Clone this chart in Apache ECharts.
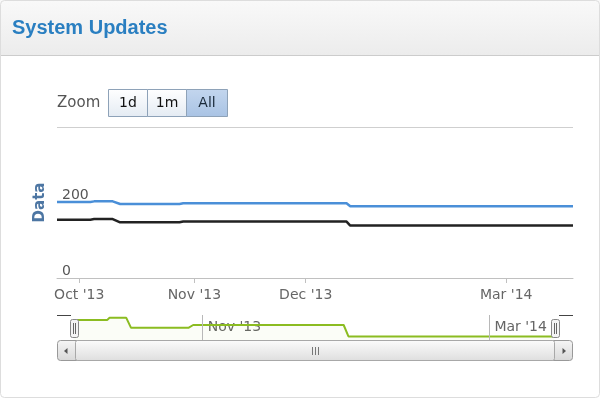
<!DOCTYPE html>
<html>
<head>
<meta charset="utf-8">
<script src="https://cdn.jsdelivr.net/npm/echarts@6/dist/echarts.min.js"></script>
<style>html,body{margin:0;padding:0;background:#fff}#chart{width:600px;height:400px}</style>
</head>
<body>
<div id="chart"></div>
<script>
// ---- data ----
const categoryRanges = [['2013-09-25', '2014-01-23'], ['2014-03-01', '2014-03-19']];
const mainDates = ['2013-09-25', '2013-10-04', '2013-10-05', '2013-10-10', '2013-10-12', '2013-10-28', '2013-10-29', '2013-12-12', '2013-12-13', '2014-03-19'];
const navDates = ['2013-09-08', '2013-09-22', '2013-09-23', '2013-09-30', '2013-10-02', '2013-10-26', '2013-10-28', '2013-12-30', '2014-01-01', '2014-03-28'];
const blueValues = [201.5, 201.5, 203, 203, 196, 196, 198, 198, 190, 190];
const blackValues = [154.5, 154.5, 156, 156, 147.5, 147.5, 149.5, 149.5, 139, 139];
const tickDates = ['2013-10-01', '2013-11-01', '2013-12-01', '2014-03-01'];
const tickLabels = ["Oct '13", "Nov '13", "Dec '13", "Mar '14"];
const navTickDates = ['2013-11-01', '2014-03-01'];
const navTickLabels = ["Nov '13", "Mar '14"];
const navRange = ['2013-09-01', '2014-04-05'];
const zoomButtons = ['1d', '1m', 'All'];
const selectedButton = 'All';

// ---- helpers ----
function toTime(s) { const p = s.split('-').map(Number); return Date.UTC(p[0], p[1] - 1, p[2]); }
function pad(n) { return n < 10 ? '0' + n : '' + n; }
function expand(ranges) {
  const out = [];
  ranges.forEach(r => {
    let t = toTime(r[0]);
    const e = toTime(r[1]);
    while (t <= e) {
      const d = new Date(t);
      out.push(d.getUTCFullYear() + '-' + pad(d.getUTCMonth() + 1) + '-' + pad(d.getUTCDate()));
      t += 86400000;
    }
  });
  return out;
}
const categories = expand(categoryRanges);
const isTick = (i, v) => tickDates.indexOf(v) >= 0;
const navTickTimes = navTickDates.map(toTime);

const FONT = 'DejaVu Sans';
const chart = echarts.init(document.getElementById('chart'), null, { renderer: 'canvas' });

function grad(c1, c2) {
  return new echarts.graphic.LinearGradient(0, 0, 0, 1, [{ offset: 0, color: c1 }, { offset: 1, color: c2 }]);
}

// zoom buttons
const btnX = [108, 147, 186, 227];
const buttonEls = [];
zoomButtons.forEach((t, i) => {
  const sel = t === selectedButton;
  buttonEls.push({
    type: 'rect', z: 5,
    shape: { x: btnX[i] + 0.5, y: 89.5, width: btnX[i + 1] - btnX[i], height: 27 },
    style: { fill: sel ? grad('#c3d6ee', '#a9c3e4') : grad('#ffffff', '#e4ebf3'), stroke: '#8ea2b8', lineWidth: 1 }
  });
  buttonEls.push({
    type: 'text', z: 6,
    style: { text: t, x: (btnX[i] + btnX[i + 1]) / 2 + 0.5, y: 103, align: 'center', verticalAlign: 'middle',
      font: '14px "' + FONT + '"', fill: sel ? '#1a2a3a' : '#111' }
  });
});

const option = {
  backgroundColor: '#ffffff',
  animation: false,
  title: {
    text: 'System Updates', left: 12, top: 18, z: 10, padding: 0,
    textStyle: { fontFamily: 'Liberation Sans', fontWeight: 'bold', fontSize: 20, color: '#2a7fc1' }
  },
  grid: [
    { left: 57, right: 27, top: 127, height: 151 },
    { left: 57, right: 27, top: 315, height: 25 }
  ],
  xAxis: [
    {
      type: 'category', data: categories, boundaryGap: false, gridIndex: 0,
      axisLine: { lineStyle: { color: '#c0c0c0' } },
      axisTick: { interval: isTick, length: 5, lineStyle: { color: '#c0c0c0' } },
      axisLabel: {
        interval: isTick, margin: 10, color: '#666', fontFamily: FONT, fontSize: 14,
        formatter: v => tickLabels[tickDates.indexOf(v)]
      },
      splitLine: { show: false }
    },
    {
      type: 'value', gridIndex: 1, min: toTime(navRange[0]), max: toTime(navRange[1]),
      axisLine: { show: false }, axisTick: { show: false }, splitLine: { show: false },
      axisLabel: {
        inside: true, margin: 6, align: 'left', padding: [0, 0, 0, 5],
        color: '#666', fontFamily: FONT, fontSize: 14,
        customValues: navTickTimes,
        formatter: v => { const i = navTickTimes.indexOf(v); return i >= 0 ? navTickLabels[i] : ''; }
      }
    }
  ],
  yAxis: [
    {
      type: 'value', gridIndex: 0, min: 0, max: 400, interval: 200,
      name: 'Data', nameLocation: 'middle', nameGap: 9, nameRotate: 90,
      nameTextStyle: { color: '#4d76a3', fontWeight: 'bold', fontSize: 15, fontFamily: FONT },
      axisLine: { show: false }, axisTick: { show: false },
      axisLabel: { inside: true, margin: 5, showMaxLabel: false, verticalAlign: 'bottom',
        color: '#555', fontFamily: FONT, fontSize: 14 },
      splitLine: { show: true, lineStyle: { color: ['rgba(0,0,0,0)', 'rgba(0,0,0,0)', '#cfcfcf'] } }
    },
    { type: 'value', gridIndex: 1, min: 187.5, max: 205, show: false }
  ],
  series: [
    {
      name: 'Blue', type: 'line', xAxisIndex: 0, yAxisIndex: 0, showSymbol: false,
      data: mainDates.map((d, i) => [d, blueValues[i]]),
      lineStyle: { color: '#4a8fd8', width: 2.5 }, itemStyle: { color: '#4a8fd8' }
    },
    {
      name: 'Black', type: 'line', xAxisIndex: 0, yAxisIndex: 0, showSymbol: false,
      data: mainDates.map((d, i) => [d, blackValues[i]]),
      lineStyle: { color: '#222222', width: 2.5 }, itemStyle: { color: '#222' }
    },
    {
      name: 'Navigator', type: 'line', xAxisIndex: 1, yAxisIndex: 1, showSymbol: false,
      data: navDates.map((d, i) => [toTime(d), blueValues[i]]),
      lineStyle: { color: '#8bbc21', width: 2 }, itemStyle: { color: '#8bbc21' },
      areaStyle: { color: 'rgba(139,188,33,0.05)' },
      markLine: {
        silent: true, symbol: 'none', label: { show: false },
        lineStyle: { color: '#b8b8b8', width: 1, type: 'solid' },
        data: navTickTimes.map(t => ({ xAxis: t }))
      }
    }
  ],
  graphic: [
    { type: 'rect', z: -1, shape: { x: 0, y: 0, width: 600, height: 55 }, style: { fill: grad('#f9f9f9', '#ececec') } },
    { type: 'line', z: 1, shape: { x1: 0, y1: 55.5, x2: 600, y2: 55.5 }, style: { stroke: '#cccccc', lineWidth: 1 } },
    { type: 'rect', z: 1, shape: { x: 0.5, y: 0.5, width: 599, height: 397, r: 4 }, style: { fill: 'none', stroke: '#dddddd', lineWidth: 1 } },
    { type: 'text', z: 5, style: { text: 'Zoom', x: 57, y: 103, verticalAlign: 'middle', font: '15px "' + FONT + '"', fill: '#555' } },
    ...buttonEls,
    { type: 'line', z: 20, shape: { x1: 57, y1: 315.5, x2: 71, y2: 315.5 }, style: { stroke: '#444', lineWidth: 1 } },
    { type: 'line', z: 20, shape: { x1: 559, y1: 315.5, x2: 573, y2: 315.5 }, style: { stroke: '#444', lineWidth: 1 } },
    { type: 'rect', z: 21, shape: { x: 70.5, y: 319.5, width: 8, height: 18, r: 2 }, style: { fill: '#f4f4f4', stroke: '#888', lineWidth: 1 } },
    { type: 'line', z: 22, shape: { x1: 73.5, y1: 323, x2: 73.5, y2: 334 }, style: { stroke: '#666', lineWidth: 1 } },
    { type: 'line', z: 22, shape: { x1: 75.5, y1: 323, x2: 75.5, y2: 334 }, style: { stroke: '#666', lineWidth: 1 } },
    { type: 'rect', z: 21, shape: { x: 551.5, y: 319.5, width: 8, height: 18, r: 2 }, style: { fill: '#f4f4f4', stroke: '#888', lineWidth: 1 } },
    { type: 'line', z: 22, shape: { x1: 554.5, y1: 323, x2: 554.5, y2: 334 }, style: { stroke: '#666', lineWidth: 1 } },
    { type: 'line', z: 22, shape: { x1: 556.5, y1: 323, x2: 556.5, y2: 334 }, style: { stroke: '#666', lineWidth: 1 } },
    { type: 'rect', z: 20, shape: { x: 57.5, y: 340.5, width: 515, height: 20, r: 3 }, style: { fill: grad('#f6f6f6', '#d8d8d8'), stroke: '#999', lineWidth: 1 } },
    { type: 'rect', z: 21, shape: { x: 75.5, y: 340.5, width: 479, height: 20, r: 2 }, style: { fill: grad('#fcfcfc', '#dedede'), stroke: '#a8a8a8', lineWidth: 1 } },
    { type: 'polygon', z: 22, shape: { points: [[67.5, 348], [67.5, 354], [64, 351]] }, style: { fill: '#555' } },
    { type: 'polygon', z: 22, shape: { points: [[562.5, 348], [562.5, 354], [566, 351]] }, style: { fill: '#555' } },
    { type: 'line', z: 22, shape: { x1: 312.5, y1: 347, x2: 312.5, y2: 355 }, style: { stroke: '#777', lineWidth: 1 } },
    { type: 'line', z: 22, shape: { x1: 315.5, y1: 347, x2: 315.5, y2: 355 }, style: { stroke: '#777', lineWidth: 1 } },
    { type: 'line', z: 22, shape: { x1: 318.5, y1: 347, x2: 318.5, y2: 355 }, style: { stroke: '#777', lineWidth: 1 } }
  ]
};
chart.setOption(option);
</script>
</body>
</html>
